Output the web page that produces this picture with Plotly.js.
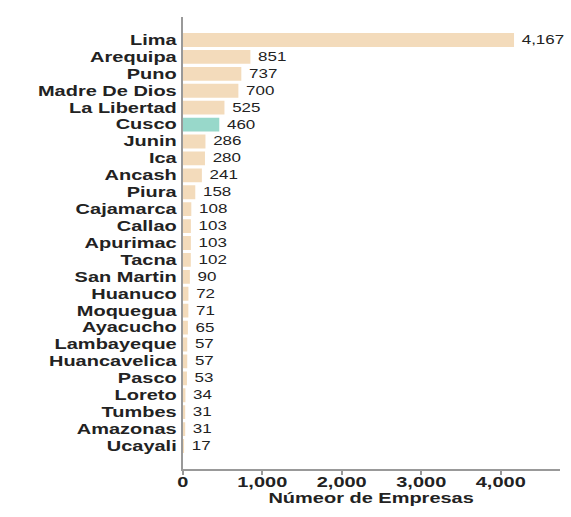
<!DOCTYPE html>
<html>
<head>
<meta charset="utf-8">
<script src="https://cdn.plot.ly/plotly-3.0.1.min.js"></script>
<style>
html, body { margin: 0; padding: 0; background: #fff; overflow: hidden; }
#wrap { width: 571px; height: 517px; overflow: hidden; }
#chart { width: 400px; height: 517px; transform: scaleX(1.4275); transform-origin: 0 0; }
</style>
</head>
<body>
<div id="wrap"><div id="chart"></div></div>
<script>
const regions = ["Lima","Arequipa","Puno","Madre De Dios","La Libertad","Cusco","Junin","Ica","Ancash","Piura","Cajamarca","Callao","Apurimac","Tacna","San Martin","Huanuco","Moquegua","Ayacucho","Lambayeque","Huancavelica","Pasco","Loreto","Tumbes","Amazonas","Ucayali"];
const empresas = [4167,851,737,700,525,460,286,280,241,158,108,103,103,102,90,72,71,65,57,57,53,34,31,31,17];
const highlight = "Cusco";
const xTickVals = [0,1000,2000,3000,4000];
const xTickText = ["0","1,000","2,000","3,000","4,000"];

const colors = regions.map(r => r === highlight ? "#98d8ca" : "#f3dbbb");
const n = regions.length;

Plotly.newPlot("chart", [{
  type: "bar",
  orientation: "h",
  y: regions,
  x: empresas,
  marker: { color: colors },
  text: empresas.map(v => "\u2009" + v.toLocaleString("en-US")),
  textposition: "outside",
  cliponaxis: false,
  textfont: { family: "Liberation Sans, Arial, sans-serif", size: 12, color: "#222" },
  hoverinfo: "none"
}], {
  width: 400,
  height: 517,
  margin: { l: 127.5, r: 8.4, t: 17, b: 48 },
  paper_bgcolor: "#fff",
  plot_bgcolor: "#fff",
  bargap: 0.18,
  showlegend: false,
  font: { family: "Liberation Sans, Arial, sans-serif", color: "#222" },
  xaxis: {
    range: [0, 4740],
    tickmode: "array",
    tickvals: xTickVals,
    ticktext: xTickText,
    ticks: "outside",
    ticklen: 4,
    tickcolor: "#999",
    tickwidth: 1.2,
    ticklabelstandoff: -5,
    showline: true,
    linecolor: "#999",
    linewidth: 2,
    showgrid: false,
    zeroline: false,
    tickfont: { size: 14, weight: "bold", color: "#222" },
    title: { text: "Númeor de Empresas", font: { size: 14, weight: "bold", color: "#222" }, standoff: 0 }
  },
  yaxis: {
    type: "category",
    categoryorder: "array",
    categoryarray: regions,
    tickmode: "array",
    tickvals: regions,
    ticktext: regions,
    range: [n - 1 + 1.36, -1.36],
    showline: true,
    linecolor: "#999",
    linewidth: 1.4,
    showgrid: false,
    zeroline: false,
    ticks: "",
    tickfont: { size: 14, weight: "bold", color: "#222" }
  }
}, { staticPlot: true, displayModeBar: false });
</script>
</body>
</html>
